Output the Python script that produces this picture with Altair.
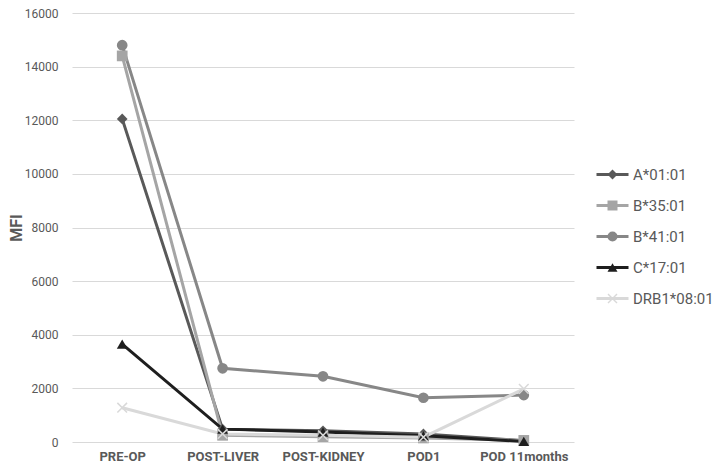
import altair as alt
import pandas as pd

categories = ["PRE-OP", "POST-LIVER", "POST-KIDNEY", "POD1", "POD 11months"]
series_names = ["A*01:01", "B*35:01", "B*41:01", "C*17:01", "DRB1*08:01"]
a0101 = [12050, 480, 420, 300, 50]
b3501 = [14400, 250, 200, 150, 60]
b4101 = [14800, 2750, 2450, 1650, 1750]
c1701 = [3650, 480, 370, 230, 20]
drb10801 = [1280, 300, 250, 180, 1980]

colors = ["#595959", "#A5A5A5", "#878787", "#1E1E1E", "#D9D9D9"]
xpath = "M-1,-0.8L-0.8,-1L1,0.8L0.8,1Z M-1,0.8L0.8,-1L1,-0.8L-0.8,1Z"
shapes = ["diamond", "square", "circle", "triangle-up", xpath]

rows = []
for name, vals in zip(series_names, [a0101, b3501, b4101, c1701, drb10801]):
    for i, (c, v) in enumerate(zip(categories, vals)):
        rows.append({"cat": c, "series": name, "MFI": v, "order": i})
df = pd.DataFrame(rows)

FONT = "Roboto"
H = 429
x = alt.X("cat:N", sort=categories, title=None,
          scale=alt.Scale(type="point", padding=0.5),
          axis=alt.Axis(labelAngle=0, labelFontWeight="bold", labelFontSize=13,
                        labelColor="#595959", ticks=False, domain=False,
                        labelPadding=8, labelFont=FONT, grid=False))
y = alt.Y("MFI:Q", title="MFI",
          scale=alt.Scale(domain=[0, 16000], nice=False),
          axis=alt.Axis(values=list(range(0, 16001, 2000)), format="d",
                        ticks=False, domain=False,
                        labelFontSize=12, labelColor="#595959", labelPadding=14,
                        labelFont=FONT, gridColor="#D9D9D9", gridWidth=1,
                        titleFontSize=16, titleFontWeight="bold", titleColor="#595959",
                        titleFont=FONT, titleX=-48, titleY=H / 2, titleAngle=-90,
                        titleAlign="center", titleBaseline="bottom"))

LX = 533
LY = 154
SYM = 100
lines = alt.Chart(df).mark_line(strokeWidth=3).encode(
    x=x, y=y, order="order:Q",
    stroke=alt.Stroke("series:N", sort=series_names,
                      scale=alt.Scale(domain=series_names, range=colors),
                      legend=alt.Legend(title=None, orient="none", legendX=LX, legendY=LY,
                                        symbolType="M-3.2,0L3.2,0", symbolSize=SYM,
                                        symbolStrokeWidth=3, labelOffset=13,
                                        labelFontSize=15, labelColor="#595959",
                                        labelFont=FONT, rowPadding=15,
                                        labelOpacity=0)),
)
points = alt.Chart(df).mark_point(filled=True, size=115, opacity=1, strokeWidth=0).encode(
    x=x, y=y,
    fill=alt.Fill("series:N", sort=series_names,
                  scale=alt.Scale(domain=series_names, range=colors),
                  legend=alt.Legend(title=None, orient="none", legendX=LX, legendY=LY,
                                    symbolSize=SYM, labelOffset=13,
                                    labelFontSize=15, labelColor="#595959",
                                    labelFont=FONT, rowPadding=15, symbolStrokeWidth=0)),
    shape=alt.Shape("series:N", sort=series_names,
                    scale=alt.Scale(domain=series_names, range=shapes),
                    legend=alt.Legend(title=None, orient="none", legendX=LX, legendY=LY,
                                      symbolSize=SYM, labelOffset=13,
                                      labelFontSize=15, labelColor="#595959",
                                      labelFont=FONT, rowPadding=15, symbolStrokeWidth=0)),
)

chart = alt.layer(lines, points).resolve_scale(stroke="independent").properties(
    width=502, height=H,
    background="white",
    autosize=alt.AutoSizeParams(type="none"),
    padding={"left": 64, "top": 5, "right": 140, "bottom": 24},
).configure_view(strokeWidth=0)

chart.save("out.html", embed_options={"renderer": "svg", "actions": False})
